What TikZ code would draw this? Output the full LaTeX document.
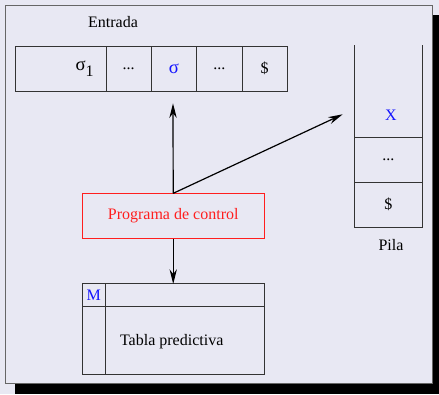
\documentclass[tikz,border=0pt]{standalone}
\usepackage{fontspec}
\setmainfont{Liberation Serif}
\usetikzlibrary{arrows.meta,positioning}
\definecolor{fondo}{RGB}{232,232,243}
\definecolor{azul}{RGB}{20,20,255}
\definecolor{rojo}{RGB}{255,30,30}

\begin{document}
\begin{tikzpicture}[x=0.75pt, y=-0.75pt,
    celda/.style={draw=black!80, line width=0.75pt, inner sep=0pt, outer sep=0pt, minimum height=33.75pt, font=\fontsize{12}{14}\selectfont},
    txt/.style={inner sep=0pt, font=\fontsize{12}{14}\selectfont},
    flecha/.style={-{Stealth[length=11pt, width=5.5pt]}, line width=0.9pt}
]
\useasboundingbox (0,0) rectangle (439,394);
\fill[fondo] (0,0) rectangle (439,394);
\fill[black] (15,383) rectangle (439,394);
\fill[black] (432,15) rectangle (439,394);
\draw[fill=fondo, draw=black!60, line width=0.75pt] (5,5) rectangle (432,383);

% cinta de entrada
\node[txt] (ent) at (113,22) {Entrada};
\node[celda, minimum width=68.25pt] (s1) at (60.5,68.5) {};
\node[celda, minimum width=34pt, right=0pt of s1] (p1) {...};
\node[celda, minimum width=34pt, right=0pt of p1, text=azul] (sig) {\fontsize{14}{14}\selectfont σ};
\node[celda, minimum width=34pt, right=0pt of sig] (p2) {...};
\node[celda, minimum width=34pt, right=0pt of p2] (dol) {\$};
\node[txt, anchor=east] (s1t) at (94,69) {\fontsize{14}{14}\selectfont σ\raisebox{-0.7ex}{\fontsize{12}{14}\selectfont 1}};

% pila
\node[celda, draw=none, minimum width=51pt, minimum height=69pt] (cima) at (388.3,91) {};
\node[celda, minimum width=51pt, below=0pt of cima] (pdots) {...};
\node[celda, minimum width=51pt, below=0pt of pdots] (pdol) {\$};
\draw[draw=black!80, line width=0.75pt] (cima.north west) -- (cima.south west) -- (cima.south east) -- (cima.north east);
\node[txt, text=azul] (x) at (391,115) {X};
\node[txt] (pila) at (391,245) {Pila};

% programa de control
\node[celda, draw=rojo, text=rojo, minimum width=136.3pt, minimum height=34pt] (prog) at (173.2,216) {Programa de control};

% tabla predictiva
\node[celda, minimum width=17pt, minimum height=17pt, text=azul] (m) at (93.7,295.3) {M};
\node[celda, minimum width=119.25pt, minimum height=17pt, right=0pt of m] (cab) {};
\node[celda, minimum width=17pt, minimum height=51.2pt, below=0pt of m] (lado) {};
\node[celda, minimum width=119.25pt, minimum height=51.2pt, right=0pt of lado] (cuerpo) {};
\node[txt] (tab) at (171.7,341.7) {Tabla predictiva};

\coordinate (arriba) at (173,103.3);
\coordinate (hacia) at (342.7,114.3);
\draw[flecha] (prog.north) -- (arriba);
\draw[flecha] (prog.north) -- (hacia);
\draw[flecha] (prog.south) -- (prog.south |- cab.north);
\end{tikzpicture}
\end{document}
